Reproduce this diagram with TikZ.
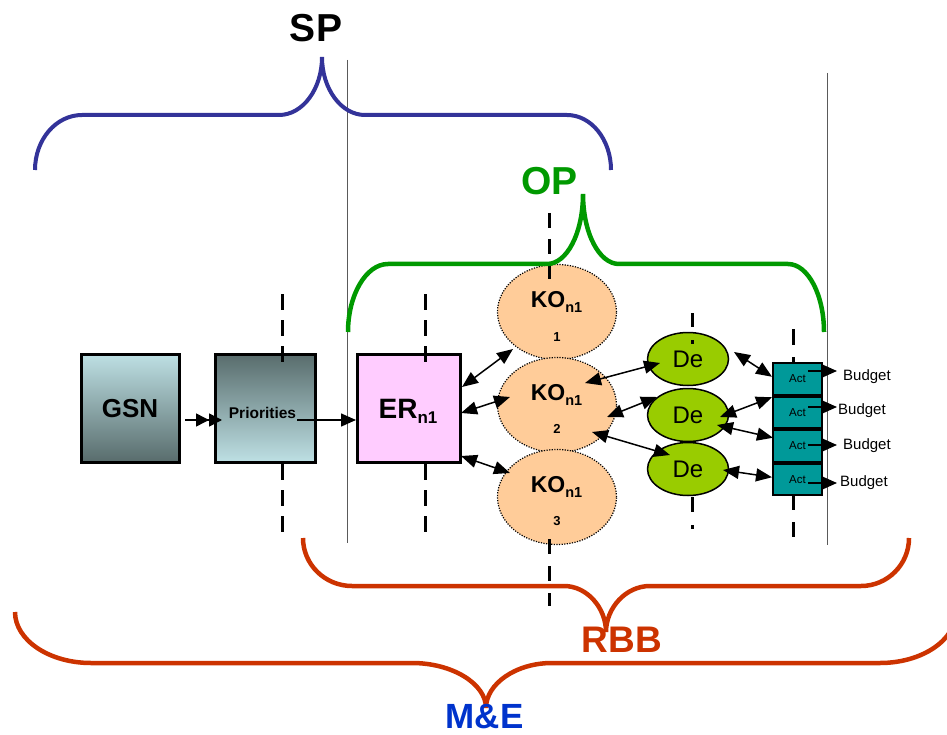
\documentclass[tikz,border=0pt]{standalone}
\usepackage{fontspec}
\setmainfont{Liberation Sans}
\usetikzlibrary{shapes.geometric,arrows.meta,calc}

\definecolor{spblue}{HTML}{333399}
\definecolor{opgreen}{HTML}{009900}
\definecolor{rbbred}{HTML}{CC3300}
\definecolor{meblue}{HTML}{0033CC}
\definecolor{gsnlight}{RGB}{190,224,228}
\definecolor{gsndark}{RGB}{88,108,108}
\definecolor{erpink}{HTML}{FFCCFF}
\definecolor{kopeach}{HTML}{FFCC99}
\definecolor{degreen}{HTML}{99CC00}
\definecolor{actteal}{HTML}{009999}
\definecolor{thingray}{RGB}{90,90,90}

\begin{document}
\begin{tikzpicture}[x=1pt,y=-1pt,
  bigbox/.style={draw=black,line width=3pt,minimum height=108pt,inner sep=0pt},
  koell/.style={ellipse,draw=black,line width=1.2pt,dash pattern=on 1.2pt off 1.4pt,fill=kopeach,minimum width=119pt,minimum height=95pt,inner sep=0pt},
  deell/.style={ellipse,draw=black,line width=1.5pt,fill=degreen,minimum width=81pt,minimum height=53pt,inner sep=0pt,font=\fontsize{24}{24}\selectfont},
  actbox/.style={draw=black,line width=2pt,fill=actteal,minimum width=49pt,minimum height=31.5pt,inner sep=0pt,font=\fontsize{11.5}{11.5}\selectfont},
  conn/.style={line width=1.5pt,{Triangle[length=16pt,width=13pt]}-{Triangle[length=16pt,width=13pt]}},
  oneway/.style={line width=1.5pt,-{Triangle[length=15pt,width=13pt]}},
  cutline/.style={black,line width=3pt},
  thinline/.style={thingray,line width=1pt},
  bracesp/.style={spblue,line width=4pt},
  braceop/.style={opgreen,line width=4.5pt},
  bracerb/.style={rbbred,line width=4.5pt},
  bigtext/.style={anchor=base,inner sep=0pt,font=\bfseries\fontsize{39}{39}\selectfont},
  kotext/.style={anchor=base,inner sep=0pt,font=\bfseries\fontsize{23}{23}\selectfont},
  konum/.style={anchor=base,inner sep=0pt,font=\bfseries\fontsize{13}{13}\selectfont},
  budget/.style={anchor=west,inner sep=0pt,font=\fontsize{15}{15}\selectfont}
]
\useasboundingbox (0,0) rectangle (947,735);
\clip (0,0) rectangle (947,735);

% thin vertical lines
\draw[thinline] (347,60) -- (347,543);
\draw[thinline] (827,73) -- (827,545);

% boxes
\node[bigbox,minimum width=98pt,top color=gsnlight,bottom color=gsndark] (gsn) at (130.5,408) {};
\node[bigbox,minimum width=100pt,top color=gsndark,bottom color=gsnlight] (prio) at (265.5,408) {};
\node[bigbox,minimum width=103pt,fill=erpink] (er) at (409,408) {};

% KO ellipses
\node[koell] (ko1) at (557,312) {};
\node[koell] (ko2) at (557,405) {};
\node[koell] (ko3) at (557,497) {};

% De ellipses
\node[deell] (de1) at (688,359) {De};
\node[deell] (de2) at (688,415) {De};
\node[deell] (de3) at (688,469) {De};

% Act boxes
\node[actbox] (act1) at (797.5,378.75) {Act};
\node[actbox] (act2) at (797.5,412.25) {Act};
\node[actbox] (act3) at (797.5,445.75) {Act};
\node[actbox] (act4) at (797.5,479.25) {Act};

% dashed cut lines
\draw[cutline,dash pattern=on 16pt off 10pt] (282,294) -- (282,365);
\draw[cutline,dash pattern=on 16pt off 10pt] (282,464) -- (282,533);
\draw[cutline,dash pattern=on 16pt off 10pt] (425,294) -- (425,365);
\draw[cutline,dash pattern=on 16pt off 10pt] (425,464) -- (425,533);
\draw[cutline,dash pattern=on 15pt off 11pt] (549,213) -- (549,279);
\draw[cutline,dash pattern=on 15pt off 12pt] (549,539) -- (549,606);
\draw[cutline] (692,313) -- (692,327) (692,340) -- (692,343.5);
\draw[cutline] (692,497) -- (692,512) (692,525) -- (692,529);
\draw[cutline] (793,329) -- (793,345) (793,357) -- (793,362);
\draw[cutline] (793,496) -- (793,510) (793,522) -- (793,537);

% texts in boxes and ellipses
\node[anchor=base,inner sep=0pt,font=\bfseries\fontsize{26}{26}\selectfont] (gsnt) at (130,417.5) {GSN};
\node[anchor=base,inner sep=0pt,font=\bfseries\fontsize{15.5}{15.5}\selectfont] (priot) at (262.5,418) {Priorities};
\node[anchor=base,inner sep=0pt,font=\bfseries\fontsize{28}{28}\selectfont] (ert) at (408,418) {ER\raisebox{-5pt}{\fontsize{17}{17}\selectfont n1}};
\node[kotext] (ko1t) at (556.5,307.5) {KO\raisebox{-5pt}{\fontsize{14.5}{14.5}\selectfont n1}};
\node[konum] (ko1n) at (557,341.5) {1};
\node[kotext] (ko2t) at (556.5,400.5) {KO\raisebox{-5pt}{\fontsize{14.5}{14.5}\selectfont n1}};
\node[konum] (ko2n) at (557,433.5) {2};
\node[kotext] (ko3t) at (556.5,492.5) {KO\raisebox{-5pt}{\fontsize{14.5}{14.5}\selectfont n1}};
\node[konum] (ko3n) at (557,525.5) {3};

% arrows
\draw[line width=1.5pt,-{Triangle[length=13pt,width=13pt] Triangle[length=13pt,width=13pt]}] ($(gsn.east)+(4,12)$) -- ($(prio.west)+(8,12)$);
\draw[oneway] ($(prio.center)+(31.5,12)$) -- ($(er.west)+(0,12)$);

\draw[conn] ($(er.center)+(53,-21)$) -- ($(ko1.center)+(-44,37)$);
\draw[conn] ($(er.center)+(52,5)$) -- ($(ko2.center)+(-47,-8)$);
\draw[conn] ($(er.center)+(52,48)$) -- ($(ko3.center)+(-47,-24)$);

\draw[conn] ($(ko2.center)+(28,-22)$) -- ($(de1.center)+(-28,4)$);
\draw[conn] ($(ko2.center)+(50,12)$) -- ($(de2.center)+(-31,-18)$);
\draw[conn] ($(ko2.center)+(35,27)$) -- ($(de3.center)+(-18,-14)$);

\draw[conn] ($(de1.center)+(46,-7)$) -- ($(act1.center)+(-25.5,-2)$);
\draw[conn] ($(de2.center)+(32,2)$) -- ($(act2.center)+(-25.5,-15)$);
\draw[conn] ($(de2.center)+(29,10)$) -- ($(act3.center)+(-24.5,-8)$);
\draw[conn] ($(de3.center)+(35,1)$) -- ($(act4.center)+(-25.5,-2)$);

% budget arrows and labels
\node[budget] (bud1) at (843,377) {Budget};
\node[budget] (bud2) at (838,411) {Budget};
\node[budget] (bud3) at (843,445.5) {Budget};
\node[budget] (bud4) at (840,482.5) {Budget};
\draw[oneway] ($(act1.center)+(10.5,-7.75)$) -- ($(act1.center)+(39.5,-7.75)$);
\draw[oneway] ($(act2.center)+(10.5,-5.25)$) -- ($(act2.center)+(39.5,-5.25)$);
\draw[oneway] ($(act3.center)+(10.5,-0.75)$) -- ($(act3.center)+(39.5,-0.75)$);
\draw[oneway] ($(act4.center)+(10.5,3.75)$) -- ($(act4.center)+(39.5,3.75)$);

% braces
\draw[bracesp] (35,170) .. controls (35,139.6) and (56,115) .. (82,115) -- (279,115)
  .. controls (302.7,115) and (322,89) .. (322,57)
  .. controls (322,89) and (341.3,115) .. (365,115) -- (567,115)
  .. controls (591.3,115) and (611,139.6) .. (611,170);
\draw[braceop] (348,332) .. controls (348,295) and (366,264) .. (388,264) -- (547,264)
  .. controls (566.9,264) and (583,233) .. (583,194)
  .. controls (583,233) and (599.1,264) .. (619,264) -- (788,264)
  .. controls (808,264) and (824,295) .. (824,332);
\draw[bracerb] (303,538) .. controls (303,564.5) and (325,586) .. (352,586) -- (564,586)
  .. controls (587.2,586) and (606,608) .. (606,632)
  .. controls (606,608) and (625.7,586) .. (650,586) -- (861,586)
  .. controls (887.5,586) and (909,564.5) .. (909,538);
\draw[bracerb] (15,612) .. controls (15,640) and (49,663) .. (91,663) -- (412,663)
  .. controls (452.8,663) and (486,684) .. (486,708)
  .. controls (486,684) and (515.6,663) .. (552,663) -- (880,663)
  .. controls (922,663) and (956,640) .. (956,612);

% brace labels
\node[bigtext] (sp) at (316,42) {SP};
\node[bigtext,text=opgreen] (op) at (549.5,195) {OP};
\node[bigtext,text=rbbred,font=\bfseries\fontsize{37}{37}\selectfont] (rbb) at (622,652) {RBB};
\node[bigtext,text=meblue,font=\bfseries\fontsize{35}{35}\selectfont] (me) at (484.5,728) {M\&E};
\end{tikzpicture}
\end{document}
